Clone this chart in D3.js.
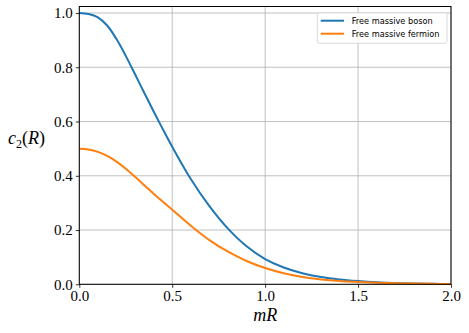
<!DOCTYPE html>
<html><head><meta charset="utf-8">
<script src="https://cdn.jsdelivr.net/npm/d3@7"></script>
<style>body{margin:0;background:#fff}</style>
</head><body>
<svg id="c" width="469" height="333"></svg>
<script>
const mR = [0,0.05,0.1,0.15,0.2,0.25,0.3,0.35,0.4,0.45,0.5,0.6,0.7,0.8,0.9,1.0,1.1,1.2,1.3,1.4,1.5,1.6,1.7,1.8,1.9,2.0];
const boson = [1.0,0.996,0.984,0.954,0.904,0.842,0.774,0.705,0.637,0.571,0.507,0.388,0.288,0.205,0.14,0.093,0.062,0.041,0.027,0.018,0.012,0.0075,0.0045,0.0028,0.0017,0.001];
const fermion = [0.5,0.497,0.488,0.473,0.452,0.426,0.396,0.365,0.334,0.304,0.275,0.216,0.163,0.12,0.086,0.06,0.041,0.027,0.018,0.012,0.0085,0.0058,0.004,0.0026,0.0017,0.001];
const seriesNames = ["Free massive boson","Free massive fermion"];
const colors = ["#1f77b4","#ff7f0e"];
const xTicks = [0,0.5,1.0,1.5,2.0];
const yTicks = [0,0.2,0.4,0.6,0.8,1.0];

const SERIF = "'Liberation Serif', 'Times New Roman', 'DejaVu Serif', serif";
const svg = d3.select("#c");
const L=79.3, R=451, T=6.5, B=284.3;
const x = d3.scaleLinear().domain([0,2]).range([L,R]);
const y = d3.scaleLinear().domain([0,1.024]).range([B,T]);

// grid
svg.append("g").selectAll("line").data(xTicks).join("line")
  .attr("x1",d=>x(d)).attr("x2",d=>x(d)).attr("y1",T).attr("y2",B)
  .attr("stroke","#b0b0b0").attr("stroke-width",0.8);
svg.append("g").selectAll("line").data(yTicks).join("line")
  .attr("x1",L).attr("x2",R).attr("y1",d=>y(d)).attr("y2",d=>y(d))
  .attr("stroke","#b0b0b0").attr("stroke-width",0.8);

const line = d3.line().x((d,i)=>x(mR[i])).y(d=>y(d)).curve(d3.curveCatmullRom.alpha(0.5));
[boson,fermion].forEach((s,k)=>{
  svg.append("path").datum(s).attr("d",line).attr("fill","none")
    .attr("stroke",colors[k]).attr("stroke-width",2);
});

// frame
svg.append("rect").attr("x",L).attr("y",T).attr("width",R-L).attr("height",B-T)
  .attr("fill","none").attr("stroke","#000").attr("stroke-width",1);

const fmt = d3.format(".1f");
const xa = svg.append("g").attr("transform",`translate(0,${B})`)
  .call(d3.axisBottom(x).tickValues(xTicks).tickFormat(fmt).tickSize(3.5).tickPadding(3));
const ya = svg.append("g").attr("transform",`translate(${L},0)`)
  .call(d3.axisLeft(y).tickValues(yTicks).tickFormat(fmt).tickSize(3.5).tickPadding(3));
[xa,ya].forEach(a=>{
  a.select(".domain").remove();
  a.selectAll("line").attr("stroke","#000").attr("stroke-width",0.8);
  a.selectAll("text").style("font-family",SERIF)
    .style("font-size","15px").attr("fill","#000");
});

svg.append("text").attr("x",x(1)).attr("y",321).attr("text-anchor","middle")
  .style("font-family",SERIF).style("font-style","italic").style("font-size","18px")
  .text("mR");
const yl = svg.append("text").attr("x",8).attr("y",144)
  .style("font-family",SERIF).style("font-size","18px");
yl.append("tspan").style("font-style","italic").text("c");
yl.append("tspan").style("font-size","12px").attr("dy",4).text("2");
yl.append("tspan").attr("dy",-4).text("(");
yl.append("tspan").style("font-style","italic").text("R");
yl.append("tspan").text(")");

// legend
const lg = svg.append("g");
lg.append("rect").attr("x",317.3).attr("y",12.7).attr("width",129.7).attr("height",30.6).attr("rx",2)
  .attr("fill","#fff").attr("fill-opacity",0.8).attr("stroke","#d0d0d0").attr("stroke-width",0.8);
seriesNames.forEach((n,k)=>{
  const yy = 20.7 + k*13;
  lg.append("line").attr("x1",320.7).attr("x2",344).attr("y1",yy).attr("y2",yy)
    .attr("stroke",colors[k]).attr("stroke-width",2);
  lg.append("text").attr("x",351.7).attr("y",yy+3).style("font-family","'DejaVu Sans', sans-serif")
    .style("font-size","8.2px").attr("fill","#000").text(n);
});
</script>
</body></html>
